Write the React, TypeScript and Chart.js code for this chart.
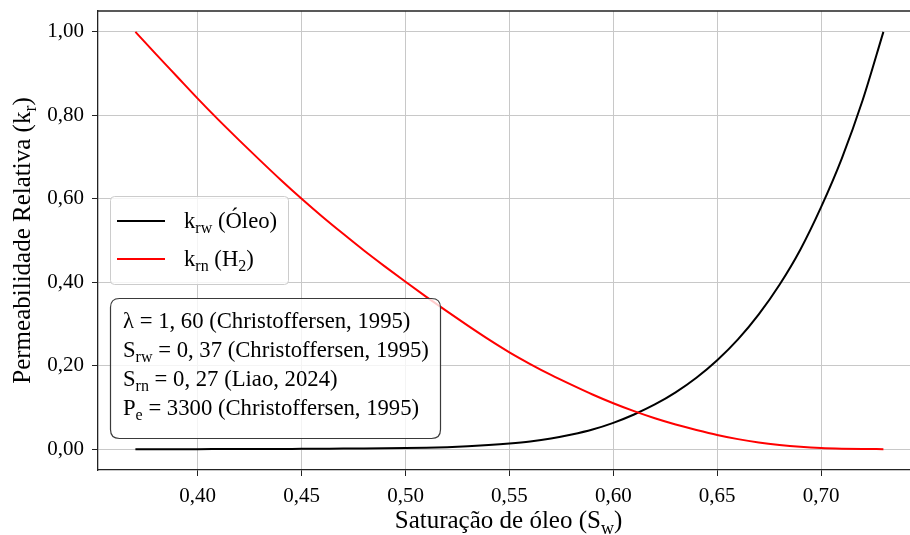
import React, { useEffect, useRef } from 'react';
import { Chart, registerables } from 'chart.js';

Chart.register(...registerables);

// ---- data ----
const saturacao = [
  0.37, 0.38, 0.39, 0.40, 0.41, 0.42, 0.43, 0.44, 0.45, 0.46,
  0.47, 0.48, 0.49, 0.50, 0.51, 0.52, 0.53, 0.54, 0.55, 0.56,
  0.57, 0.58, 0.59, 0.60, 0.61, 0.62, 0.63, 0.64, 0.65, 0.66,
  0.67, 0.68, 0.69, 0.70, 0.71, 0.72, 0.73,
];
const krwOleo = [
  0.0, 0.0, 0.0, 0.0, 0.0001, 0.0002, 0.0003, 0.0005, 0.0007, 0.0010,
  0.0013, 0.0017, 0.0022, 0.0028, 0.0036, 0.0048, 0.0068, 0.0097, 0.0135, 0.0185,
  0.0255, 0.035, 0.047, 0.063, 0.083, 0.107, 0.136, 0.171, 0.213, 0.263,
  0.323, 0.394, 0.478, 0.580, 0.697, 0.836, 1.0,
];
const krnH2 = [
  1.0, 0.946, 0.893, 0.840, 0.789, 0.740, 0.692, 0.645, 0.600, 0.557,
  0.516, 0.476, 0.438, 0.401, 0.365, 0.330, 0.296, 0.263, 0.232, 0.204,
  0.178, 0.154, 0.131, 0.110, 0.091, 0.074, 0.059, 0.046, 0.034, 0.024,
  0.016, 0.010, 0.0055, 0.0025, 0.001, 0.0003, 0.0,
];
const xTicks = [0.40, 0.45, 0.50, 0.55, 0.60, 0.65, 0.70];
const xTickLabels = ['0,40', '0,45', '0,50', '0,55', '0,60', '0,65', '0,70'];
const yTicks = [0.0, 0.2, 0.4, 0.6, 0.8, 1.0];
const yTickLabels = ['0,00', '0,20', '0,40', '0,60', '0,80', '1,00'];

type Seg = { t: string; sub?: boolean };

const xTitle: Seg[] = [{ t: 'Saturação de óleo (S' }, { t: 'w', sub: true }, { t: ')' }];
const yTitle: Seg[] = [{ t: 'Permeabilidade Relativa (k' }, { t: 'r', sub: true }, { t: ')' }];
const legendLabels: Seg[][] = [
  [{ t: 'k' }, { t: 'rw', sub: true }, { t: ' (Óleo)' }],
  [{ t: 'k' }, { t: 'rn', sub: true }, { t: ' (H' }, { t: '2', sub: true }, { t: ')' }],
];
const legendColors = ['#000000', '#ff0000'];
const infoLines: Seg[][] = [
  [{ t: 'λ = 1, 60 (Christoffersen, 1995)' }],
  [{ t: 'S' }, { t: 'rw', sub: true }, { t: ' = 0, 37 (Christoffersen, 1995)' }],
  [{ t: 'S' }, { t: 'rn', sub: true }, { t: ' = 0, 27 (Liao, 2024)' }],
  [{ t: 'P' }, { t: 'e', sub: true }, { t: ' = 3300 (Christoffersen, 1995)' }],
];

const FONT = '"Liberation Serif", "Times New Roman", serif';

function richWidth(ctx: CanvasRenderingContext2D, segs: Seg[], size: number) {
  let w = 0;
  for (const s of segs) {
    ctx.font = `${s.sub ? Math.round(size * 0.7) : size}px ${FONT}`;
    w += ctx.measureText(s.t).width;
  }
  return w;
}

function drawRich(
  ctx: CanvasRenderingContext2D,
  segs: Seg[],
  x: number,
  y: number,
  size: number,
  align: 'left' | 'center' = 'left'
) {
  const w = richWidth(ctx, segs, size);
  let cx = align === 'center' ? x - w / 2 : x;
  ctx.textAlign = 'left';
  ctx.textBaseline = 'alphabetic';
  for (const s of segs) {
    ctx.font = `${s.sub ? Math.round(size * 0.7) : size}px ${FONT}`;
    ctx.fillText(s.t, cx, s.sub ? y + size * 0.24 : y);
    cx += ctx.measureText(s.t).width;
  }
}

function roundRect(ctx: CanvasRenderingContext2D, x: number, y: number, w: number, h: number, r: number) {
  ctx.beginPath();
  ctx.moveTo(x + r, y);
  ctx.lineTo(x + w - r, y);
  ctx.quadraticCurveTo(x + w, y, x + w, y + r);
  ctx.lineTo(x + w, y + h - r);
  ctx.quadraticCurveTo(x + w, y + h, x + w - r, y + h);
  ctx.lineTo(x + r, y + h);
  ctx.quadraticCurveTo(x, y + h, x, y + h - r);
  ctx.lineTo(x, y + r);
  ctx.quadraticCurveTo(x, y, x + r, y);
  ctx.closePath();
}

const overlayPlugin = {
  id: 'overlay',
  afterDraw(chart: any) {
    const ctx: CanvasRenderingContext2D = chart.ctx;
    const area = chart.chartArea;
    ctx.save();
    // top spine
    ctx.strokeStyle = '#222';
    ctx.lineWidth = 1.3;
    ctx.beginPath();
    ctx.moveTo(area.left, area.top);
    ctx.lineTo(area.right + 2, area.top);
    ctx.stroke();

    ctx.fillStyle = '#000';
    // axis titles
    drawRich(ctx, xTitle, (area.left + 919) / 2, 528, 25, 'center');
    ctx.save();
    ctx.translate(30, (area.top + area.bottom) / 2);
    ctx.rotate(-Math.PI / 2);
    drawRich(ctx, yTitle, 0, 0, 25, 'center');
    ctx.restore();

    // legend
    roundRect(ctx, 110.5, 196.5, 178, 88, 4);
    ctx.fillStyle = 'rgba(255,255,255,0.8)';
    ctx.fill();
    ctx.strokeStyle = '#cccccc';
    ctx.lineWidth = 1;
    ctx.stroke();
    legendLabels.forEach((segs, i) => {
      const yy = 221 + i * 38;
      ctx.strokeStyle = legendColors[i];
      ctx.lineWidth = 2;
      ctx.beginPath();
      ctx.moveTo(117, yy);
      ctx.lineTo(165, yy);
      ctx.stroke();
      ctx.fillStyle = '#000';
      drawRich(ctx, segs, 184, yy + 7, 22.7);
    });

    // info box
    roundRect(ctx, 110.5, 298.5, 330, 140, 9);
    ctx.fillStyle = 'rgba(255,255,255,0.8)';
    ctx.fill();
    ctx.strokeStyle = '#3a3a3a';
    ctx.lineWidth = 1.2;
    ctx.stroke();
    ctx.fillStyle = '#000';
    infoLines.forEach((segs, i) => {
      drawRich(ctx, segs, 123, 328 + i * 29, 22.7);
    });
    ctx.restore();
  },
};

export default function App() {
  const canvasRef = useRef<HTMLCanvasElement | null>(null);

  useEffect(() => {
    document.body.style.margin = '0';
    const canvas = canvasRef.current;
    if (!canvas) return;
    const chart = new Chart(canvas, {
      type: 'line',
      data: {
        datasets: [
          {
            label: 'krw (Óleo)',
            data: saturacao.map((x, i) => ({ x, y: krwOleo[i] })),
            borderColor: '#000000',
            borderWidth: 2,
            pointRadius: 0,
            fill: false,
            cubicInterpolationMode: 'monotone',
            order: 2,
          },
          {
            label: 'krn (H2)',
            data: saturacao.map((x, i) => ({ x, y: krnH2[i] })),
            borderColor: '#ff0000',
            borderWidth: 2,
            pointRadius: 0,
            fill: false,
            cubicInterpolationMode: 'monotone',
            order: 1,
          },
        ],
      },
      options: {
        animation: false,
        responsive: false,
        devicePixelRatio: 1,
        layout: { padding: { top: 11, left: 0, right: 0, bottom: 0 } },
        plugins: { legend: { display: false }, tooltip: { enabled: false } },
        elements: { point: { radius: 0 } },
        scales: {
          x: {
            type: 'linear',
            min: 0.352,
            max: 0.7428,
            afterBuildTicks: (s: any) => {
              s.ticks = xTicks.map((v) => ({ value: v }));
            },
            afterFit: (s: any) => {
              s.height = 65;
              s.paddingLeft = 0;
              s.paddingRight = 0;
            },
            ticks: {
              callback: (v: any) => {
                const i = xTicks.findIndex((t) => Math.abs(t - v) < 1e-9);
                return i >= 0 ? xTickLabels[i] : '';
              },
              font: { family: FONT, size: 21 },
              color: '#000',
              padding: 8,
              maxRotation: 0,
              autoSkip: false,
            },
            grid: { color: '#c8c8c8', lineWidth: 1, tickColor: '#222', tickLength: 6 },
            border: { color: '#222', width: 1.3 },
          },
          y: {
            type: 'linear',
            min: -0.05,
            max: 1.05,
            afterBuildTicks: (s: any) => {
              s.ticks = yTicks.map((v) => ({ value: v }));
            },
            afterFit: (s: any) => {
              s.width = 98;
              s.paddingTop = 0;
              s.paddingBottom = 0;
            },
            ticks: {
              callback: (v: any) => {
                const i = yTicks.findIndex((t) => Math.abs(t - v) < 1e-9);
                return i >= 0 ? yTickLabels[i] : '';
              },
              font: { family: FONT, size: 21 },
              color: '#000',
              padding: 8,
              autoSkip: false,
            },
            grid: { color: '#c8c8c8', lineWidth: 1, tickColor: '#222', tickLength: 6 },
            border: { color: '#222', width: 1.3 },
          },
        },
      } as any,
      plugins: [overlayPlugin],
    });
    return () => chart.destroy();
  }, []);

  return (
    <div style={{ position: 'fixed', left: 0, top: 0, width: 910, height: 535 }}>
      <canvas ref={canvasRef} width={910} height={535} style={{ width: 910, height: 535, display: 'block' }} />
    </div>
  );
}
